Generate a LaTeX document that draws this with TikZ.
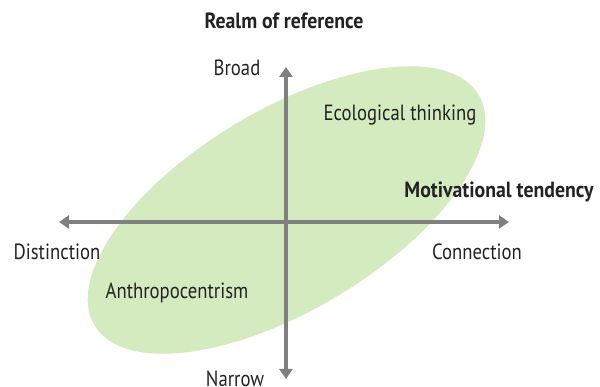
\documentclass[tikz,border=0pt]{standalone}
\usepackage{fontspec}
\setmainfont{PT Sans}
\newfontfamily\regf{PT Sans}[FakeStretch=0.85]
\newfontfamily\boldf{PT Sans}[FakeStretch=0.9]
\usetikzlibrary{arrows.meta}
\definecolor{blobgreen}{HTML}{D4EBBF}
\definecolor{axisgray}{HTML}{808080}
\definecolor{txt}{HTML}{222222}
\tikzset{
  axis/.style={draw=axisgray, line width=3.2pt, -{Triangle[length=10pt,width=13pt]}},
  lbl/.style={font=\regf\fontsize{22}{26}\selectfont, text=txt, inner sep=0pt, anchor=base},
  title/.style={font=\boldf\bfseries\fontsize{22}{26}\selectfont, text=txt, inner sep=0pt, anchor=base}
}
\begin{document}
\begin{tikzpicture}[x=1pt,y=-1pt]
\useasboundingbox (0,0) rectangle (600,387);
\fill[blobgreen, rotate around={31:(286.5,210)}] (286.5,210) ellipse [x radius=224, y radius=100];
\coordinate (o) at (286,222);
\coordinate (top) at (286,67);
\coordinate (bot) at (286,379);
\coordinate (lft) at (59,222);
\coordinate (rgt) at (509,222);
\draw[axis] (o) -- (top);
\draw[axis] (o) -- (bot);
\draw[axis] (o) -- (lft);
\draw[axis] (o) -- (rgt);
\node[title] (realm) at (284,29) {Realm of reference};
\node[title] (motiv) at (499,198) {Motivational tendency};
\node[lbl] (broad) at (237,76) {Broad};
\node[lbl] (narrow) at (235,386) {Narrow};
\node[lbl] (dist) at (57,260) {Distinction};
\node[lbl] (conn) at (477,260) {Connection};
\node[lbl] (eco) at (400,121) {Ecological thinking};
\node[lbl] (anth) at (177,299) {Anthropocentrism};
\end{tikzpicture}
\end{document}
